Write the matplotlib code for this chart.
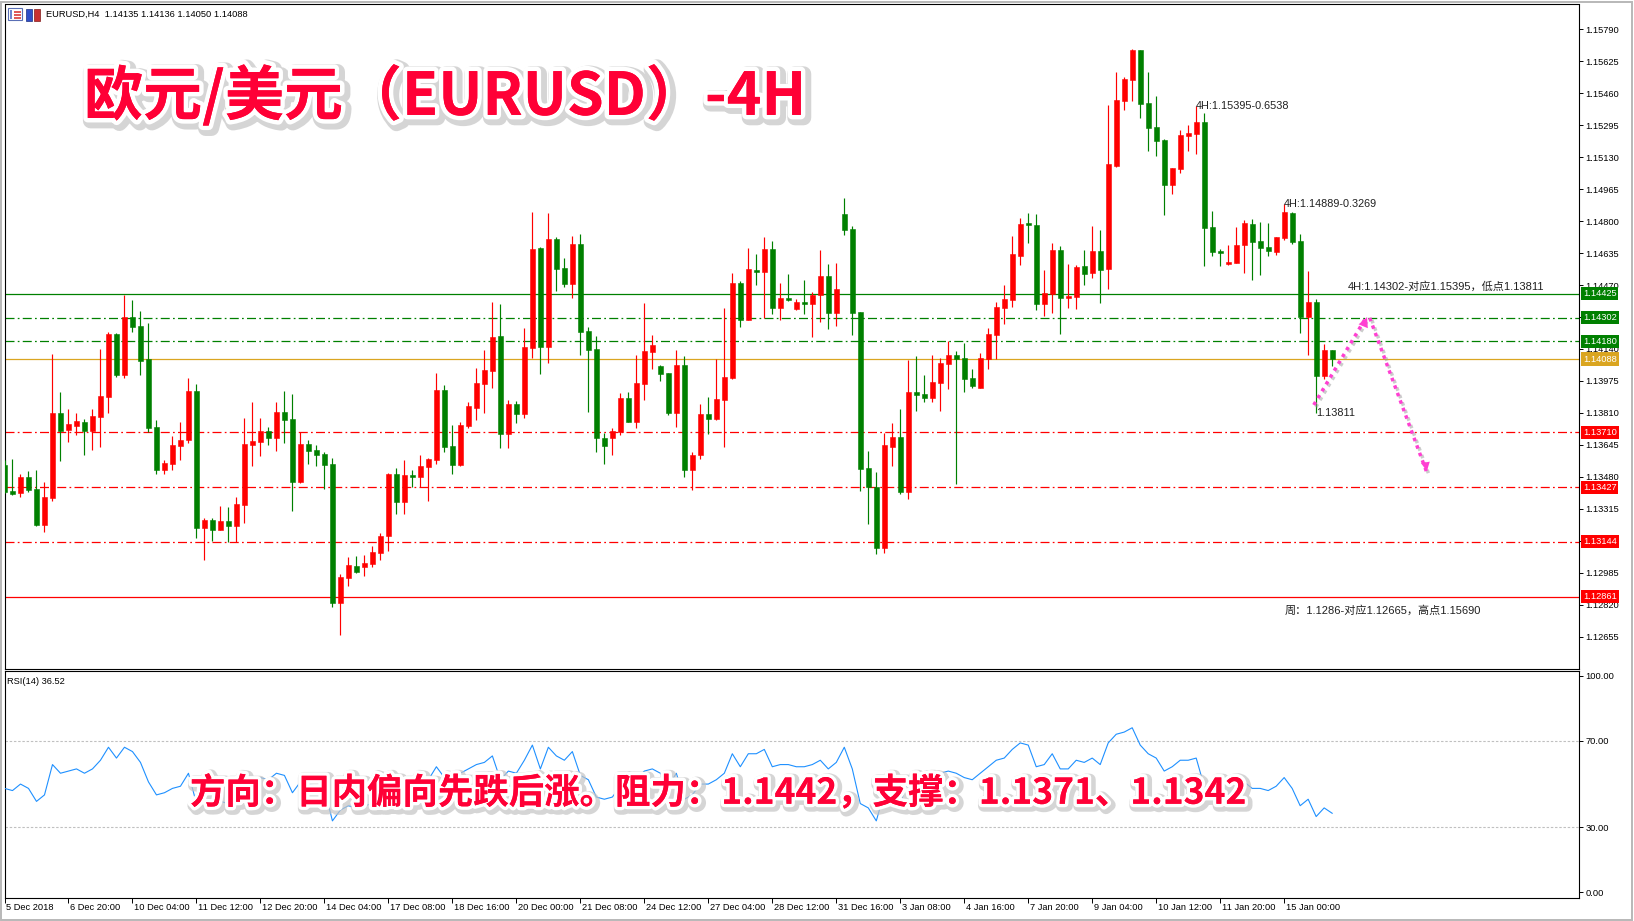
import numpy as np
import matplotlib
matplotlib.use('Agg')
import matplotlib.pyplot as plt
import matplotlib.patheffects as pe
from matplotlib.patches import Rectangle
from matplotlib.transforms import blended_transform_factory

plt.rcParams['font.family'] = ['Liberation Sans', 'Noto Sans CJK SC', 'DejaVu Sans']

# EURUSD H4 candles, 5 Dec 2018 12:00 .. 16 Jan 2019 00:00
opens = [
    1.13541, 1.13407, 1.13399, 1.13479, 1.13418, 1.13233, 1.13373, 1.13810, 1.13724, 1.13744,
    1.13763, 1.13719, 1.13791, 1.13894, 1.14217, 1.14008, 1.14305, 1.14259, 1.14087, 1.13738,
    1.13517, 1.13548, 1.13641, 1.13672, 1.13923, 1.13218, 1.13258, 1.13203, 1.13252, 1.13228,
    1.13337, 1.13646, 1.13662, 1.13717, 1.13682, 1.13815, 1.13779, 1.13455, 1.13650, 1.13621,
    1.13598, 1.13547, 1.12831, 1.12960, 1.13020, 1.13017, 1.13032, 1.13089, 1.13172, 1.13495,
    1.13352, 1.13490, 1.13481, 1.13533, 1.13569, 1.13928, 1.13639, 1.13541, 1.13744, 1.13836,
    1.13961, 1.14028, 1.14207, 1.13703, 1.13856, 1.13806, 1.14147, 1.14661, 1.14152, 1.14708,
    1.14558, 1.14477, 1.14682, 1.14233, 1.14140, 1.13682, 1.13682, 1.13713, 1.13887, 1.13765,
    1.13961, 1.14126, 1.14052, 1.14016, 1.13811, 1.14057, 1.13517, 1.13593, 1.13805, 1.13780,
    1.13879, 1.13992, 1.14481, 1.14291, 1.14548, 1.14539, 1.14656, 1.14353, 1.14403, 1.14348,
    1.14383, 1.14374, 1.14420, 1.14517, 1.14327, 1.14837, 1.14759, 1.14331, 1.13526, 1.13430,
    1.13110, 1.13636, 1.13686, 1.13404, 1.13918, 1.13908, 1.13889, 1.13966, 1.14064, 1.14109,
    1.14094, 1.13990, 1.13940, 1.14088, 1.14214, 1.14353, 1.14395, 1.14622, 1.14790, 1.14780,
    1.14374, 1.14425, 1.14651, 1.14405, 1.14410, 1.14568, 1.14534, 1.14646, 1.14555, 1.15086,
    1.15421, 1.15530, 1.15683, 1.15409, 1.15285, 1.15220, 1.14988, 1.15070, 1.15241, 1.15251,
    1.15311, 1.14769, 1.14646, 1.14580, 1.14585, 1.14678, 1.14787, 1.14697, 1.14666, 1.14642,
    1.14713, 1.14842, 1.14697, 1.14307, 1.14383, 1.14002, 1.14135,
]
highs = [
    1.13567, 1.13572, 1.13495, 1.13510, 1.13516, 1.13454, 1.14114, 1.13918, 1.13830, 1.13810,
    1.13779, 1.13830, 1.14140, 1.14228, 1.14221, 1.14419, 1.14393, 1.14336, 1.14274, 1.13774,
    1.13567, 1.13691, 1.13763, 1.13990, 1.13959, 1.13268, 1.13268, 1.13330, 1.13325, 1.13376,
    1.13784, 1.13867, 1.13784, 1.13738, 1.13867, 1.13923, 1.13908, 1.13710, 1.13670, 1.13645,
    1.13610, 1.13579, 1.12979, 1.13067, 1.13072, 1.13077, 1.13123, 1.13191, 1.13502, 1.13526,
    1.13567, 1.13516, 1.13593, 1.13579, 1.14016, 1.13954, 1.13748, 1.13763, 1.13867, 1.14042,
    1.14135, 1.14383, 1.14372, 1.13877, 1.13872, 1.14248, 1.14847, 1.14668, 1.14842, 1.14718,
    1.14610, 1.14723, 1.14733, 1.14254, 1.14207, 1.13708, 1.13734, 1.13913, 1.13918, 1.14111,
    1.14377, 1.14212, 1.14057, 1.14016, 1.14135, 1.14104, 1.13609, 1.13856, 1.13892, 1.14088,
    1.14352, 1.14532, 1.14493, 1.14661, 1.14630, 1.14718, 1.14697, 1.14481, 1.14527, 1.14398,
    1.14496, 1.14434, 1.14651, 1.14579, 1.14584, 1.14919, 1.14775, 1.14331, 1.13614, 1.13505,
    1.13707, 1.13758, 1.13830, 1.14083, 1.14104, 1.14006, 1.14109, 1.14094, 1.14181, 1.14130,
    1.14171, 1.14037, 1.14119, 1.14248, 1.14383, 1.14470, 1.14723, 1.14816, 1.14842, 1.14837,
    1.14548, 1.14687, 1.14671, 1.14579, 1.14573, 1.14651, 1.14775, 1.14754, 1.15399, 1.15569,
    1.15543, 1.15690, 1.15683, 1.15569, 1.15445, 1.15225, 1.15074, 1.15270, 1.15296, 1.15395,
    1.15358, 1.14852, 1.14656, 1.14677, 1.14769, 1.14806, 1.14811, 1.14795, 1.14790, 1.14718,
    1.14889, 1.14847, 1.14733, 1.14542, 1.14398, 1.14166, 1.14136,
]
lows = [
    1.13395, 1.13387, 1.13378, 1.13400, 1.13225, 1.13197, 1.13357, 1.13564, 1.13662, 1.13698,
    1.13595, 1.13621, 1.13636, 1.13811, 1.13997, 1.13992, 1.14229, 1.14008, 1.13713, 1.13492,
    1.13492, 1.13517, 1.13569, 1.13652, 1.13166, 1.13053, 1.13151, 1.13203, 1.13142, 1.13142,
    1.13244, 1.13538, 1.13590, 1.13646, 1.13615, 1.13657, 1.13301, 1.13450, 1.13548, 1.13538,
    1.13419, 1.12810, 1.12665, 1.12914, 1.12981, 1.12970, 1.13017, 1.13053, 1.13099, 1.13290,
    1.13290, 1.13428, 1.13428, 1.13357, 1.13548, 1.13610, 1.13492, 1.13538, 1.13734, 1.13774,
    1.13810, 1.13940, 1.13631, 1.13631, 1.13760, 1.13786, 1.14095, 1.14013, 1.14069, 1.14441,
    1.14462, 1.14405, 1.14111, 1.13817, 1.13610, 1.13548, 1.13595, 1.13698, 1.13765, 1.13734,
    1.13879, 1.14039, 1.13977, 1.13801, 1.13739, 1.13481, 1.13414, 1.13574, 1.13703, 1.13775,
    1.13636, 1.13987, 1.14255, 1.14291, 1.14472, 1.14302, 1.14322, 1.14291, 1.14389, 1.14343,
    1.14322, 1.14204, 1.14281, 1.14245, 1.14260, 1.14730, 1.14214, 1.13409, 1.13239, 1.13084,
    1.13089, 1.13538, 1.13393, 1.13363, 1.13822, 1.13868, 1.13868, 1.13822, 1.13935, 1.13445,
    1.13920, 1.13940, 1.13940, 1.14037, 1.14088, 1.14271, 1.14357, 1.14575, 1.14689, 1.14343,
    1.14312, 1.14327, 1.14216, 1.14353, 1.14348, 1.14472, 1.14508, 1.14379, 1.14451, 1.15081,
    1.15375, 1.15421, 1.15334, 1.15163, 1.15138, 1.14833, 1.14941, 1.15050, 1.15163, 1.15148,
    1.14570, 1.14622, 1.14570, 1.14575, 1.14585, 1.14534, 1.14498, 1.14524, 1.14622, 1.14627,
    1.14704, 1.14683, 1.14224, 1.14111, 1.13811, 1.13987, 1.14050,
]
closes = [
    1.13404, 1.13392, 1.13479, 1.13414, 1.13233, 1.13376, 1.13810, 1.13719, 1.13753, 1.13768,
    1.13719, 1.13794, 1.13897, 1.14217, 1.14008, 1.14305, 1.14255, 1.14080, 1.13734, 1.13517,
    1.13552, 1.13645, 1.13670, 1.13923, 1.13218, 1.13258, 1.13208, 1.13252, 1.13228, 1.13340,
    1.13650, 1.13665, 1.13717, 1.13682, 1.13815, 1.13775, 1.13455, 1.13650, 1.13615, 1.13595,
    1.13543, 1.12831, 1.12964, 1.13025, 1.12991, 1.13036, 1.13093, 1.13175, 1.13497, 1.13352,
    1.13490, 1.13481, 1.13536, 1.13572, 1.13928, 1.13636, 1.13541, 1.13748, 1.13846, 1.13965,
    1.14032, 1.14202, 1.13703, 1.13856, 1.13806, 1.14150, 1.14656, 1.14152, 1.14708, 1.14555,
    1.14477, 1.14682, 1.14229, 1.14137, 1.13682, 1.13641, 1.13719, 1.13887, 1.13765, 1.13965,
    1.14130, 1.14161, 1.14013, 1.13811, 1.14057, 1.13517, 1.13593, 1.13805, 1.13780, 1.13882,
    1.13996, 1.14481, 1.14291, 1.14553, 1.14539, 1.14656, 1.14353, 1.14403, 1.14395, 1.14383,
    1.14374, 1.14420, 1.14517, 1.14327, 1.14450, 1.14756, 1.14327, 1.13522, 1.13426, 1.13115,
    1.13645, 1.13686, 1.13404, 1.13918, 1.13904, 1.13889, 1.13970, 1.14068, 1.14109, 1.14090,
    1.13987, 1.13951, 1.14094, 1.14217, 1.14357, 1.14398, 1.14630, 1.14785, 1.14780, 1.14374,
    1.14427, 1.14651, 1.14405, 1.14413, 1.14563, 1.14529, 1.14646, 1.14549, 1.15095, 1.15425,
    1.15533, 1.15683, 1.15406, 1.15282, 1.15215, 1.14988, 1.15074, 1.15244, 1.15255, 1.15311,
    1.14766, 1.14642, 1.14637, 1.14587, 1.14677, 1.14790, 1.14694, 1.14663, 1.14647, 1.14718,
    1.14847, 1.14694, 1.14307, 1.14383, 1.14002, 1.14135, 1.14088,
]

# RSI(14)
rsi = [
    48, 47, 50, 48, 42, 45, 59, 55, 56, 57,
    55, 57, 61, 67, 62, 67, 65, 60, 51, 45,
    46, 48, 49, 55, 41, 42, 41, 42, 41, 44,
    51, 52, 53, 52, 55, 54, 46, 51, 50, 49,
    48, 33, 38, 40, 39, 40, 41, 43, 50, 47,
    50, 50, 51, 52, 58, 53, 51, 55, 57, 59,
    60, 63, 52, 56, 55, 61, 68, 57, 67, 63,
    61, 65, 54, 52, 44, 43, 44, 49, 46, 52,
    56, 57, 55, 49, 55, 43, 45, 50, 50, 52,
    55, 64, 58, 64, 64, 66, 58, 59, 59, 58,
    58, 59, 61, 57, 60, 67, 57, 41, 39, 33,
    46, 47, 41, 52, 51, 51, 53, 55, 56, 55,
    53, 52, 55, 58, 61, 62, 66, 69, 68, 58,
    59, 64, 57, 57, 61, 60, 62, 59, 69, 73,
    74, 76, 68, 64, 62, 56, 58, 61, 61, 62,
    49, 46, 46, 45, 48, 51, 48, 48, 47, 49,
    53, 48, 40, 43, 35, 39, 36.52,
]

date_labels = [
    '5 Dec 2018', '6 Dec 20:00', '10 Dec 04:00', '11 Dec 12:00', '12 Dec 20:00',
    '14 Dec 04:00', '17 Dec 08:00', '18 Dec 16:00', '20 Dec 00:00', '21 Dec 08:00',
    '24 Dec 12:00', '27 Dec 04:00', '28 Dec 12:00', '31 Dec 16:00', '3 Jan 08:00',
    '4 Jan 16:00', '7 Jan 20:00', '9 Jan 04:00', '10 Jan 12:00', '11 Jan 20:00',
    '15 Jan 00:00',
]
price_ticks = [1.15790, 1.15625, 1.15460, 1.15295, 1.15130, 1.14965, 1.14800, 1.14635,
               1.14470, 1.14305, 1.14140, 1.13975, 1.13810, 1.13645, 1.13480, 1.13315,
               1.13150, 1.12985, 1.12820, 1.12655]
rsi_ticks = [0, 30, 70, 100]

# horizontal levels: value, colour, style
levels = [1.14425, 1.14302, 1.14180, 1.14088, 1.13710, 1.13427, 1.13144, 1.12861]
level_colors = ['#008000', '#008000', '#008000', '#DAA520',
                '#FF0000', '#FF0000', '#FF0000', '#FF0000']
DASHDOT = (0, (7.2, 2.6, 1.4, 2.6))
level_styles = ['-', DASHDOT, DASHDOT, '-', DASHDOT, DASHDOT, DASHDOT, '-']

W, H = 1634, 921
fig = plt.figure(figsize=(W / 100, H / 100), dpi=100)
fig.patch.set_facecolor('white')


def fx(px):
    return px / W


def fy(py):
    return 1 - py / H


def px_rect(x0, y0, w, h, **kw):
    fig.patches.append(Rectangle((fx(x0), fy(y0 + h)), w / W, h / H,
                                 transform=fig.transFigure, **kw))


ax = fig.add_axes([fx(4.5), fy(669), (1579.3 - 4.5) / W, (669 - 4.5) / H])
ax2 = fig.add_axes([fx(4.5), fy(898), (1579.3 - 4.5) / W, (898 - 671) / H])

RED, GREEN = '#FF0000', '#008000'
idx = np.arange(len(closes))
o, h, l, c = map(np.array, (opens, highs, lows, closes))
cols = np.where(c > o, RED, GREEN)

# price panel
for lv, col, ls in zip(levels, level_colors, level_styles):
    ax.axhline(lv, color=col, lw=0.9, ls=ls, zorder=2)
ax.vlines(idx, l, h, colors=cols, lw=0.85, zorder=3)
ax.bar(idx, c - o, bottom=o, width=0.6, color=cols, edgecolor=cols, lw=0.4, zorder=4)

ax.set_xlim(0, 196.9)
ax.set_ylim(1.12488, 1.15918)
ax.set_xticks([])
ax.yaxis.tick_right()
ax.set_yticks(price_ticks)
ax.set_yticklabels([f'{t:.5f}' for t in price_ticks])
ax.tick_params(axis='y', direction='out', length=3, width=0.7, labelsize=6.7, pad=1.5)
for s in ax.spines.values():
    s.set_color('black')
    s.set_linewidth(0.8)

ytr = blended_transform_factory(ax.transAxes, ax.transData)
for lv, col in zip(levels, level_colors):
    ax.text(1.0022, lv, f'{lv:.5f}', transform=ytr, ha='left', va='center',
            color='white', fontsize=6.7, clip_on=False, zorder=8,
            bbox=dict(boxstyle='square,pad=0.22', fc=col, ec='none'))

# annotations on the price panel
note_kw = dict(color='#202020', va='center', ha='left', zorder=6)
ax.text(149, 1.15395, '4H:1.15395-0.6538', fontsize=7.8, **note_kw)
ax.text(160, 1.14889, '4H:1.14889-0.3269', fontsize=7.8, **note_kw)
ax.text(168, 1.14465, '4H:1.14302-对应1.15395，低点1.13811', fontsize=8.0, **note_kw)
ax.text(164, 1.13811, '1.13811', fontsize=7.8, **note_kw)
ax.text(160, 1.12789, '周：1.1286-对应1.12665，高点1.15690', fontsize=8.0, **note_kw)

# projected path arrows
PINK = '#FF3FD2'
path_up = ([163.7, 170.2], [1.13851, 1.14300])
path_down = ([170.7, 177.9], [1.14300, 1.13495])
shadow = [pe.SimpleLineShadow(offset=(1.5, -1.5), shadow_color='#999999', alpha=0.5), pe.Normal()]
for px_, py_ in (path_up, path_down):
    ax.plot(px_, py_, color=PINK, lw=2.5, ls=(0, (1, 1.3)), zorder=7,
            solid_capstyle='butt', path_effects=shadow)
ax.annotate('', xy=(170.5, 1.14318), xytext=(169.1, 1.14180),
            arrowprops=dict(arrowstyle='-|>', color=PINK, lw=0, mutation_scale=18), zorder=7)
ax.annotate('', xy=(177.9, 1.13495), xytext=(177.3, 1.13640),
            arrowprops=dict(arrowstyle='-|>', color=PINK, lw=0, mutation_scale=16), zorder=7)

# RSI panel
ax2.plot(idx, rsi, color='#1E90FF', lw=0.8, zorder=3)
for lv in (70, 30):
    ax2.axhline(lv, color='#C0C0C0', lw=0.8, ls=(0, (2.2, 1.6)), zorder=2)
ax2.set_xlim(0, 196.9)
ax2.set_ylim(-2.6, 102.2)
ax2.yaxis.tick_right()
ax2.set_yticks(rsi_ticks)
ax2.set_yticklabels([f'{t:.2f}' for t in rsi_ticks])
ax2.tick_params(axis='y', direction='out', length=3, width=0.7, labelsize=6.7, pad=1.5)
tick_idx = list(range(0, 8 * len(date_labels), 8))
ax2.set_xticks(tick_idx)
ax2.set_xticklabels([])
ax2.tick_params(axis='x', direction='out', length=3.6, width=0.7)
for s in ax2.spines.values():
    s.set_color('black')
    s.set_linewidth(0.8)
xtr = blended_transform_factory(ax2.transData, ax2.transAxes)
for i, lab in zip(tick_idx, date_labels):
    ax2.text(i + 0.2, -0.042, lab, transform=xtr, ha='left', va='center',
             fontsize=6.7, clip_on=False)
ax2.text(0.0018, 0.955, 'RSI(14) 36.52', transform=ax2.transAxes, ha='left',
         va='center', fontsize=6.7)

# header and window chrome
fig.text(fx(45.5), fy(14.7), 'EURUSD,H4  1.14135 1.14136 1.14050 1.14088',
         fontsize=6.7, ha='left', va='center')
px_rect(8, 8.5, 14, 12, fc='white', ec='#5a6fb5', lw=0.8)
px_rect(9.5, 10, 2.5, 9, fc='#6f86d0', ec='none')
for k in range(3):
    px_rect(13.5, 11 + 3 * k, 7, 1.6, fc='#e05a5a', ec='none')
px_rect(26, 9, 6, 12, fc='#2f4fc8', ec='#1b2f80', lw=0.5)
px_rect(34, 9, 6, 12, fc='#c83030', ec='#801b1b', lw=0.5)
fig.patches.append(Rectangle((fx(1), fy(H - 1)), (W - 3) / W, (H - 3) / H,
                             transform=fig.transFigure, fill=False, ec='#b8b8b8', lw=1.4))

# overlay titles
TITLE_RED = '#FF0036'
big_fx = [pe.withStroke(linewidth=11, foreground='#c4c4c4', alpha=0.7, offset=(2, -2)),
          pe.withStroke(linewidth=6.5, foreground='white'), pe.Normal()]
fig.text(fx(84), fy(97), '欧元/美元（EURUSD）-4H', fontsize=42.5, fontweight='heavy',
         color=TITLE_RED, ha='left', va='center', family=['Noto Sans CJK SC', 'DejaVu Sans'],
         path_effects=big_fx, zorder=10)
small_fx = [pe.withStroke(linewidth=8.5, foreground='#c4c4c4', alpha=0.7, offset=(1.5, -1.5)),
            pe.withStroke(linewidth=5, foreground='white'), pe.Normal()]
fig.text(fx(190), fy(793), '方向：日内偏向先跌后涨。阻力：1.1442，支撑：1.1371、1.1342',
         fontsize=25.5, fontweight='heavy', color=TITLE_RED, ha='left', va='center',
         family=['Noto Sans CJK SC', 'DejaVu Sans'], path_effects=small_fx, zorder=10)

fig.savefig('out.png', dpi=100, facecolor='white')
